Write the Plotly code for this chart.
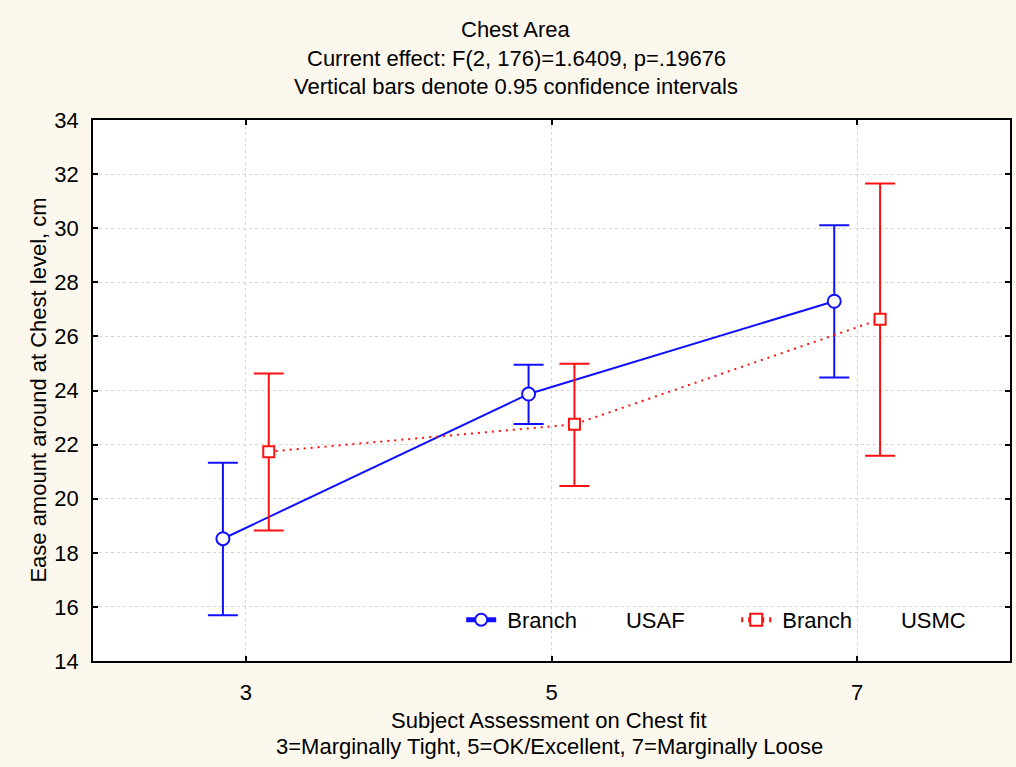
import plotly.graph_objects as go

# Subject assessment on chest fit (3 = marginally tight, 5 = OK, 7 = marginally loose)
fit_level = [3, 5, 7]

# Ease at chest level (cm): means and 0.95 confidence limits per branch
usaf_mean = [18.52, 23.87, 27.30]
usaf_upper = [21.33, 24.95, 30.11]
usaf_lower = [15.69, 22.76, 24.48]

usmc_mean = [21.74, 22.75, 26.63]
usmc_upper = [24.63, 24.99, 31.65]
usmc_lower = [18.82, 20.47, 21.59]

y_ticks = [14, 16, 18, 20, 22, 24, 26, 28, 30, 32, 34]

FONT = "Liberation Sans, Arial, sans-serif"
FS = 22
BLUE = "#1010FF"
RED = "#FF1010"
DODGE = 0.15  # horizontal shift so the two branches do not overlap

# plot area in pixels
L, R, T, B = 93, 4, 120, 106
W, H = 1016, 767
PW, PH = W - L - R, H - T - B
PLOT_BOTTOM = H - B


def px_x(px):
    return (px - L) / PW


def px_y(px):
    return (PLOT_BOTTOM - px) / PH


def shifted(xs, d):
    return [x + d for x in xs]


def err(mean, upper, lower, color):
    return dict(
        type="data",
        symmetric=False,
        array=[u - m for u, m in zip(upper, mean)],
        arrayminus=[m - l for m, l in zip(mean, lower)],
        color=color,
        thickness=2,
        width=15,
    )


sp = "&nbsp;" * 8
fig = go.Figure()
fig.add_trace(go.Scatter(
    x=shifted(fit_level, -DODGE), y=usaf_mean,
    mode="lines+markers",
    name="&nbsp;Branch" + sp + "USAF",
    line=dict(color=BLUE, width=2),
    marker=dict(symbol="circle", size=13, color="white",
                line=dict(color=BLUE, width=2)),
    error_y=err(usaf_mean, usaf_upper, usaf_lower, BLUE),
))
fig.add_trace(go.Scatter(
    x=shifted(fit_level, DODGE), y=usmc_mean,
    mode="lines+markers",
    name="&nbsp;Branch" + sp + "USMC",
    line=dict(color=RED, width=2, dash="2px,5px"),
    marker=dict(symbol="square", size=11, color="white",
                line=dict(color=RED, width=2)),
    error_y=err(usmc_mean, usmc_upper, usmc_lower, RED),
))

annotations = []
for text, ypx in [
    ("Chest Area", 30),
    ("Current effect: F(2, 176)=1.6409, p=.19676", 58),
    ("Vertical bars denote 0.95 confidence intervals", 87),
]:
    annotations.append(dict(
        text=text, xref="paper", yref="paper",
        x=px_x(517), y=px_y(ypx),
        showarrow=False, xanchor="center", yanchor="middle",
        font=dict(family=FONT, size=FS, color="black"),
    ))

for text, ypx in [("Subject Assessment on Chest fit", 720),
                  ("3=Marginally Tight, 5=OK/Excellent, 7=Marginally Loose", 746)]:
    annotations.append(dict(
        text=text, xref="paper", yref="paper",
        x=px_x(550), y=px_y(ypx),
        showarrow=False, xanchor="center", yanchor="middle",
        font=dict(family=FONT, size=FS, color="black"),
    ))

annotations.append(dict(
    text="Ease amount around at Chest level, cm",
    xref="paper", yref="paper", x=px_x(38), y=0.5,
    textangle=-90, showarrow=False, xanchor="center", yanchor="middle",
    font=dict(family=FONT, size=FS, color="black"),
))

grid = dict(showgrid=True, gridcolor="#D4D4D4", griddash="dot", gridwidth=1)
axis_common = dict(
    showline=True, linecolor="black", linewidth=1.5, mirror="ticks",
    ticks="inside", ticklen=5, tickcolor="black", tickwidth=1.5,
    zeroline=False,
    tickfont=dict(family=FONT, size=FS, color="black"),
    **grid,
)

fig.update_layout(
    width=W, height=H,
    margin=dict(l=L, r=R, t=T, b=B),
    paper_bgcolor="#FDF8EE",
    plot_bgcolor="white",
    font=dict(family=FONT, size=FS, color="black"),
    showlegend=True,
    legend=dict(
        orientation="h", x=px_x(462), y=px_y(620),
        xanchor="left", yanchor="middle",
        bgcolor="rgba(0,0,0,0)",
        font=dict(family=FONT, size=FS, color="black"),
        entrywidth=230, entrywidthmode="pixels",
        itemsizing="constant",
    ),
    xaxis=dict(range=[2, 8], tickvals=fit_level, ticklabelstandoff=11,
               **axis_common),
    yaxis=dict(range=[14, 34], tickvals=y_ticks, ticklabelstandoff=8,
               **axis_common),
    annotations=annotations,
)

fig.write_html("out.html")
